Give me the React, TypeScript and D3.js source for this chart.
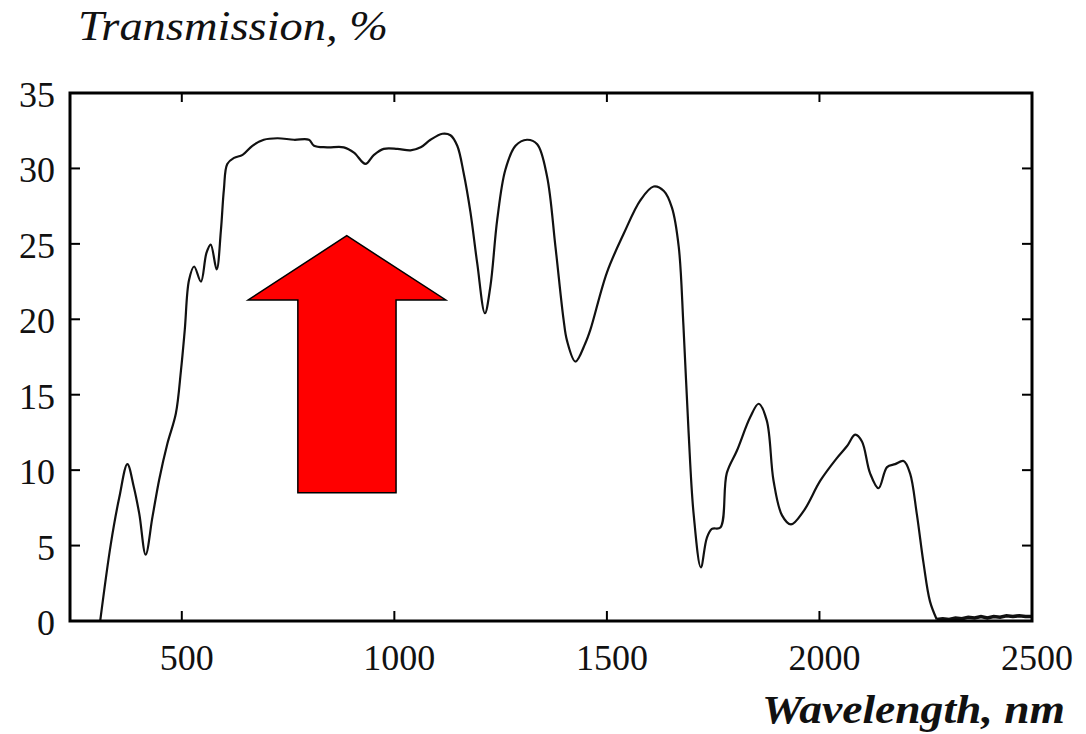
import React from "react";
import * as d3 from "d3";

// Wavelength (nm) and transmission (%)
const wavelengths: number[] = [
  308, 333, 353, 372, 387, 400, 415, 431, 447, 466, 486, 498, 507, 517, 529, 545,
  558, 568, 582, 592, 599, 607, 623, 643, 666, 693, 725, 764, 799, 811, 842, 881,
  905, 932, 952, 975, 1007, 1038, 1062, 1085, 1113, 1132, 1148, 1163, 1179, 1195,
  1213, 1226, 1242, 1261, 1285, 1312, 1336, 1359, 1379, 1398, 1406, 1426, 1449,
  1461, 1500, 1540, 1579, 1610, 1634, 1653, 1669, 1680, 1692, 1704, 1721,
  1735, 1747, 1767, 1782, 1806, 1837, 1857, 1876, 1892, 1912, 1933, 1963, 2002,
  2041, 2065, 2084, 2100, 2119, 2139, 2159, 2178, 2198, 2213, 2229, 2245, 2260, 2276,
];
const transmission: number[] = [
  0, 5.1, 8.2, 10.4, 8.9, 7.1, 4.4, 6.9, 9.4, 11.75, 13.75, 16.6, 19.3, 22.6, 23.5, 22.5,
  24.4, 24.95, 23.3, 25.9, 28.6, 30.3, 30.7, 30.9, 31.5, 31.9, 32.0, 31.9, 31.9, 31.5, 31.4, 31.4,
  31.05, 30.3, 30.9, 31.3, 31.3, 31.2, 31.4, 31.9, 32.3, 32.2, 31.5, 29.7, 27.1, 23.7,
  20.4, 22.2, 26.6, 29.9, 31.5, 31.9, 31.6, 29.5, 24.8, 20.0, 18.6, 17.2, 18.4,
  19.3, 23.1, 25.7, 27.9, 28.8, 28.5, 27.4, 24.8, 19.6, 12.6, 7.1, 3.55,
  5.5, 6.1, 6.2, 9.8, 11.3, 13.5, 14.4, 13.3, 9.3, 7.0, 6.4, 7.3, 9.3,
  10.8, 11.6, 12.35, 11.9, 9.8, 8.8, 10.2, 10.4, 10.6, 9.8, 7.1, 3.8, 1.3, 0.1,
];
// noisy tail near zero
const tailWavelengths: number[] = [2276, 2290, 2305, 2320, 2335, 2350, 2365, 2380, 2395, 2410, 2425, 2440, 2455, 2470, 2485, 2500];
const tailValues: number[] = [0.1, 0.15, 0.1, 0.2, 0.15, 0.25, 0.2, 0.3, 0.2, 0.3, 0.25, 0.35, 0.3, 0.35, 0.3, 0.3];

const xTicks: number[] = [500, 1000, 1500, 2000];
const xTickLabels: number[] = [500, 1000, 1500, 2000, 2500];
const yTicks: number[] = [0, 5, 10, 15, 20, 25, 30, 35];

// Arrow annotation in data coordinates [nm, %]
const arrowShape: [number, number][] = [
  [888, 25.54],
  [1121, 21.28],
  [1004, 21.28],
  [1004, 8.5],
  [773, 8.5],
  [773, 21.28],
  [656, 21.28],
];

const W = 1086;
const H = 734;
const left = 70, right = 1032, top = 93, bottom = 621;

export default function App() {
  const x = d3.scaleLinear().domain([237, 2500]).range([left, right]);
  const y = d3.scaleLinear().domain([0, 35]).range([bottom, top]);

  const line = d3
    .line<[number, number]>()
    .x((d) => x(d[0]))
    .y((d) => y(d[1]))
    .curve(d3.curveCatmullRom.alpha(0.5));

  const mainData: [number, number][] = wavelengths.map((w, i) => [w, transmission[i]]);
  const tailData: [number, number][] = tailWavelengths.map((w, i) => [w, tailValues[i]]);
  const tailLine = d3
    .line<[number, number]>()
    .x((d) => x(d[0]))
    .y((d) => y(d[1]))
    .curve(d3.curveLinear);

  const arrowPts = arrowShape.map((p) => `${x(p[0])},${y(p[1])}`).join(" ");
  const serif = "'Liberation Serif', 'Times New Roman', serif";

  return (
    <svg
      width={W}
      height={H}
      style={{ position: "absolute", left: 0, top: 0, background: "#fff" }}
    >
      <rect x={0} y={0} width={W} height={H} fill="#fff" />
      {/* title */}
      <text
        x={78}
        y={40}
        fontFamily={serif}
        fontStyle="italic"
        fontSize={42}
        textLength={310}
        lengthAdjust="spacingAndGlyphs"
        fill="#111"
      >
        Transmission, %
      </text>
      {/* curve */}
      <path d={line(mainData) || ""} fill="none" stroke="#111" strokeWidth={2.2} />
      <path d={tailLine(tailData) || ""} fill="none" stroke="#111" strokeWidth={3.5} />
      {/* frame */}
      <rect
        x={left}
        y={top}
        width={right - left}
        height={bottom - top}
        fill="none"
        stroke="#000"
        strokeWidth={3}
      />
      {/* x ticks */}
      {xTicks.map((t) => (
        <g key={"xt" + t}>
          <line x1={x(t)} x2={x(t)} y1={bottom} y2={bottom - 10} stroke="#000" strokeWidth={2} />
          <line x1={x(t)} x2={x(t)} y1={top} y2={top + 9} stroke="#000" strokeWidth={2} />
        </g>
      ))}
      {/* y ticks */}
      {yTicks
        .filter((t) => t > 0 && t < 35)
        .map((t) => (
          <g key={"yt" + t}>
            <line x1={left} x2={left + 10} y1={y(t)} y2={y(t)} stroke="#000" strokeWidth={2} />
            <line x1={right} x2={right - 10} y1={y(t)} y2={y(t)} stroke="#000" strokeWidth={2} />
          </g>
        ))}
      {/* y labels */}
      {yTicks.map((t) => (
        <text
          key={"yl" + t}
          x={55}
          y={y(t) + 14}
          textAnchor="end"
          fontFamily={serif}
          fontSize={36}
          fill="#111"
        >
          {t}
        </text>
      ))}
      {/* x labels */}
      {xTickLabels.map((t) => (
        <text
          key={"xl" + t}
          x={x(t) + 5}
          y={670}
          textAnchor="middle"
          fontFamily={serif}
          fontSize={36}
          fill="#111"
        >
          {t}
        </text>
      ))}
      {/* x axis title */}
      <text
        x={762}
        y={723}
        fontFamily={serif}
        fontStyle="italic"
        fontWeight="bold"
        fontSize={41}
        textLength={303}
        lengthAdjust="spacingAndGlyphs"
        fill="#111"
      >
        Wavelength, nm
      </text>
      {/* red arrow */}
      <polygon points={arrowPts} fill="#ff0000" stroke="#000" strokeWidth={1.5} />
    </svg>
  );
}
